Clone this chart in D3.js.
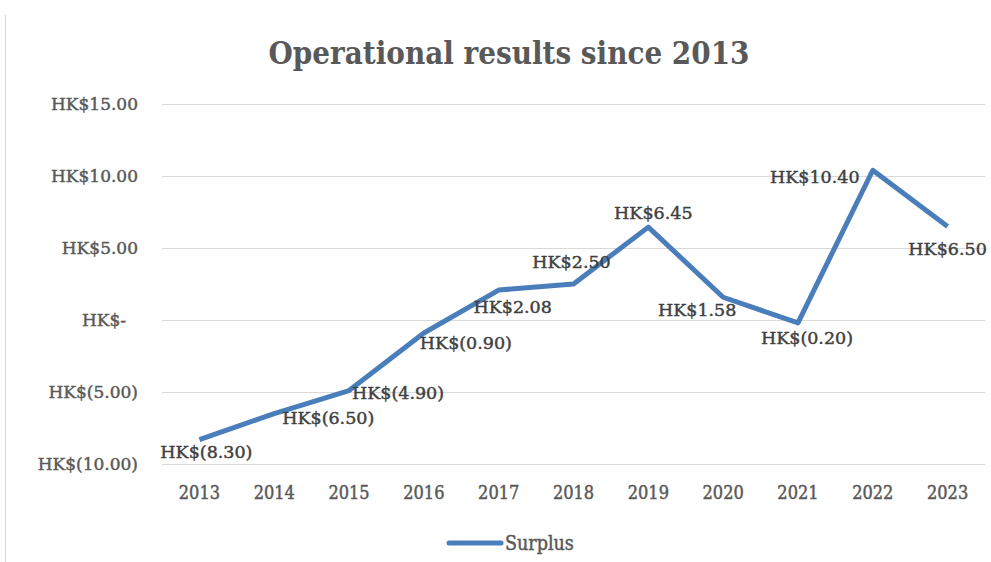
<!DOCTYPE html>
<html>
<head>
<meta charset="utf-8">
<script src="https://cdn.jsdelivr.net/npm/d3@7"></script>
<style>
  body { margin: 0; background: #fff; }
  svg { display: block; }
</style>
</head>
<body>
<svg width="991" height="562"></svg>
<script>
// Chart data
var years = ["2013", "2014", "2015", "2016", "2017", "2018", "2019", "2020", "2021", "2022", "2023"];
var surplus = [-8.30, -6.50, -4.90, -0.90, 2.08, 2.50, 6.45, 1.58, -0.20, 10.40, 6.50];
var yTicks = [-10, -5, 0, 5, 10, 15];

// where each value label sits, relative to its point
var labelOffset = [[7, 12], [54, 4], [49, 2], [42, 10], [14, 17], [-2, -22],
                   [5, -14], [-26, 13], [9, 15], [-58, 7], [0, 22]];

var svg = d3.select("svg"),
    width = +svg.attr("width"),
    height = +svg.attr("height");

var lineColor = "#4a7ebb",
    textColor = "#595959",
    serif = "'DejaVu Serif', serif",
    condensed = "'DejaVu Serif Condensed', 'DejaVu Serif', serif";

// money format, negatives in brackets, zero as a dash
function hk(v) {
    if (v === 0) return "HK$-";
    var s = d3.format(".2f")(Math.abs(v));
    return v < 0 ? "HK$(" + s + ")" : "HK$" + s;
}

var x = d3.scaleBand().domain(years).range([162, 985]).padding(0);
var y = d3.scaleLinear().domain([-10, 15]).range([464, 104]);

function cx(d) { return x(d) + x.bandwidth() / 2; }

// thicken the thin DejaVu strokes a bit
function heavy(sel, c) {
    sel.attr("stroke", c).attr("stroke-width", 0.45).attr("paint-order", "stroke");
}

// chart frame edge
svg.append("line")
    .attr("x1", 5.5).attr("x2", 5.5)
    .attr("y1", 15).attr("y2", height)
    .attr("stroke", "#d9d9d9");

// title
svg.append("text")
    .attr("x", 509).attr("y", 64)
    .attr("text-anchor", "middle")
    .attr("font-family", condensed)
    .attr("font-weight", "bold")
    .attr("font-size", 31)
    .attr("fill", textColor)
    .text("Operational results since 2013");

// gridlines + y labels
var yAxis = d3.axisLeft(y).tickValues(yTicks).tickSize(-(985 - 162)).tickFormat(hk).tickPadding(24);
var gy = svg.append("g").attr("transform", "translate(162,0)").call(yAxis);
gy.select(".domain").remove();
gy.selectAll(".tick line").attr("stroke", "#d9d9d9");
gy.selectAll(".tick text")
    .attr("font-family", serif)
    .attr("font-size", 17)
    .attr("fill", textColor)
    .attr("x", function(d) { return d === 0 ? -36 : -24; })
    .call(heavy, textColor);

// x labels
var xAxis = d3.axisBottom(x).tickSize(0).tickPadding(22);
var gx = svg.append("g").attr("transform", "translate(0,464)").call(xAxis);
gx.select(".domain").remove();
gx.selectAll(".tick text")
    .attr("font-family", condensed)
    .attr("font-size", 18)
    .attr("fill", textColor)
    .call(heavy, textColor);

// the series line
var line = d3.line()
    .x(function(d, i) { return cx(years[i]); })
    .y(function(d) { return y(d); });

svg.append("path")
    .datum(surplus)
    .attr("fill", "none")
    .attr("stroke", lineColor)
    .attr("stroke-width", 5)
    .attr("stroke-linejoin", "round")
    .attr("d", line);

// value labels
svg.append("g")
    .selectAll("text")
    .data(surplus)
    .enter().append("text")
    .attr("x", function(d, i) { return cx(years[i]) + labelOffset[i][0]; })
    .attr("y", function(d, i) { return y(d) + labelOffset[i][1]; })
    .attr("dy", "0.35em")
    .attr("text-anchor", "middle")
    .attr("font-family", serif)
    .attr("font-size", 17.5)
    .attr("fill", "#404040")
    .text(hk)
    .call(heavy, "#404040");

// legend
var legend = svg.append("g").attr("transform", "translate(449,543)");
legend.append("line")
    .attr("x1", 0).attr("x2", 52)
    .attr("stroke", lineColor)
    .attr("stroke-width", 5)
    .attr("stroke-linecap", "round");
legend.append("text")
    .attr("x", 56).attr("dy", "0.35em")
    .attr("font-family", condensed)
    .attr("font-size", 19.5)
    .attr("fill", textColor)
    .text("Surplus")
    .call(heavy, textColor);
</script>
</body>
</html>
